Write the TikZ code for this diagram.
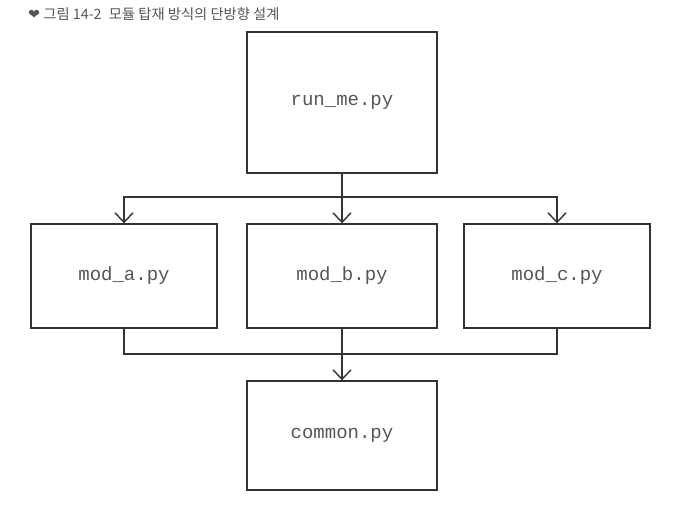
\documentclass[tikz,border=0pt]{standalone}
\usepackage{fontspec}
\setmonofont{Liberation Mono}
\newfontfamily\kr{Noto Sans CJK KR}
\newfontfamily\symf{DejaVu Sans}
\usetikzlibrary{arrows.meta}
\definecolor{ln}{HTML}{333333}
\definecolor{tx}{HTML}{555555}
\begin{document}
\begin{tikzpicture}[x=1pt,y=-1pt,
  box/.style={draw=ln,line width=1.4pt,minimum width=190pt,inner sep=0pt,font=\ttfamily\fontsize{19}{19}\selectfont,text=tx},
  conn/.style={draw=ln,line width=1.4pt},
  arr/.style={conn,-{Straight Barb[length=9.5pt,width=18pt,line width=1.4pt]}}]
\useasboundingbox (0,0) rectangle (684,511);
\node[anchor=west,font=\kr\fontsize{14.3}{14.3}\selectfont,text=tx,inner sep=0pt] (cap) at (28,14) {{\symf\textcolor{tx}{❤}} 그림 14-2\hspace{4pt} 모듈 탑재 방식의 단방향 설계};
\node[box,minimum height=141pt] (run) at (342,102.5) {run\_me.py};
\node[box,minimum width=186pt,minimum height=104pt] (a) at (124,276) {mod\_a.py};
\node[box,minimum height=104pt] (b) at (342,276) {mod\_b.py};
\node[box,minimum width=186pt,minimum height=104pt] (c) at (557,276) {mod\_c.py};
\node[box,minimum height=109pt] (com) at (342,435.5) {common.py};
\coordinate (j1) at (342,197);
\coordinate (j2) at (342,354);
\draw[conn] (run.south) -- (j1);
\draw[arr] (j1) -| (a.north);
\draw[arr] (j1) -- (b.north);
\draw[arr] (j1) -| (c.north);
\draw[conn] (a.south) |- (j2);
\draw[conn] (c.south) |- (j2);
\draw[arr] (b.south) -- (com.north);
\end{tikzpicture}
\end{document}
